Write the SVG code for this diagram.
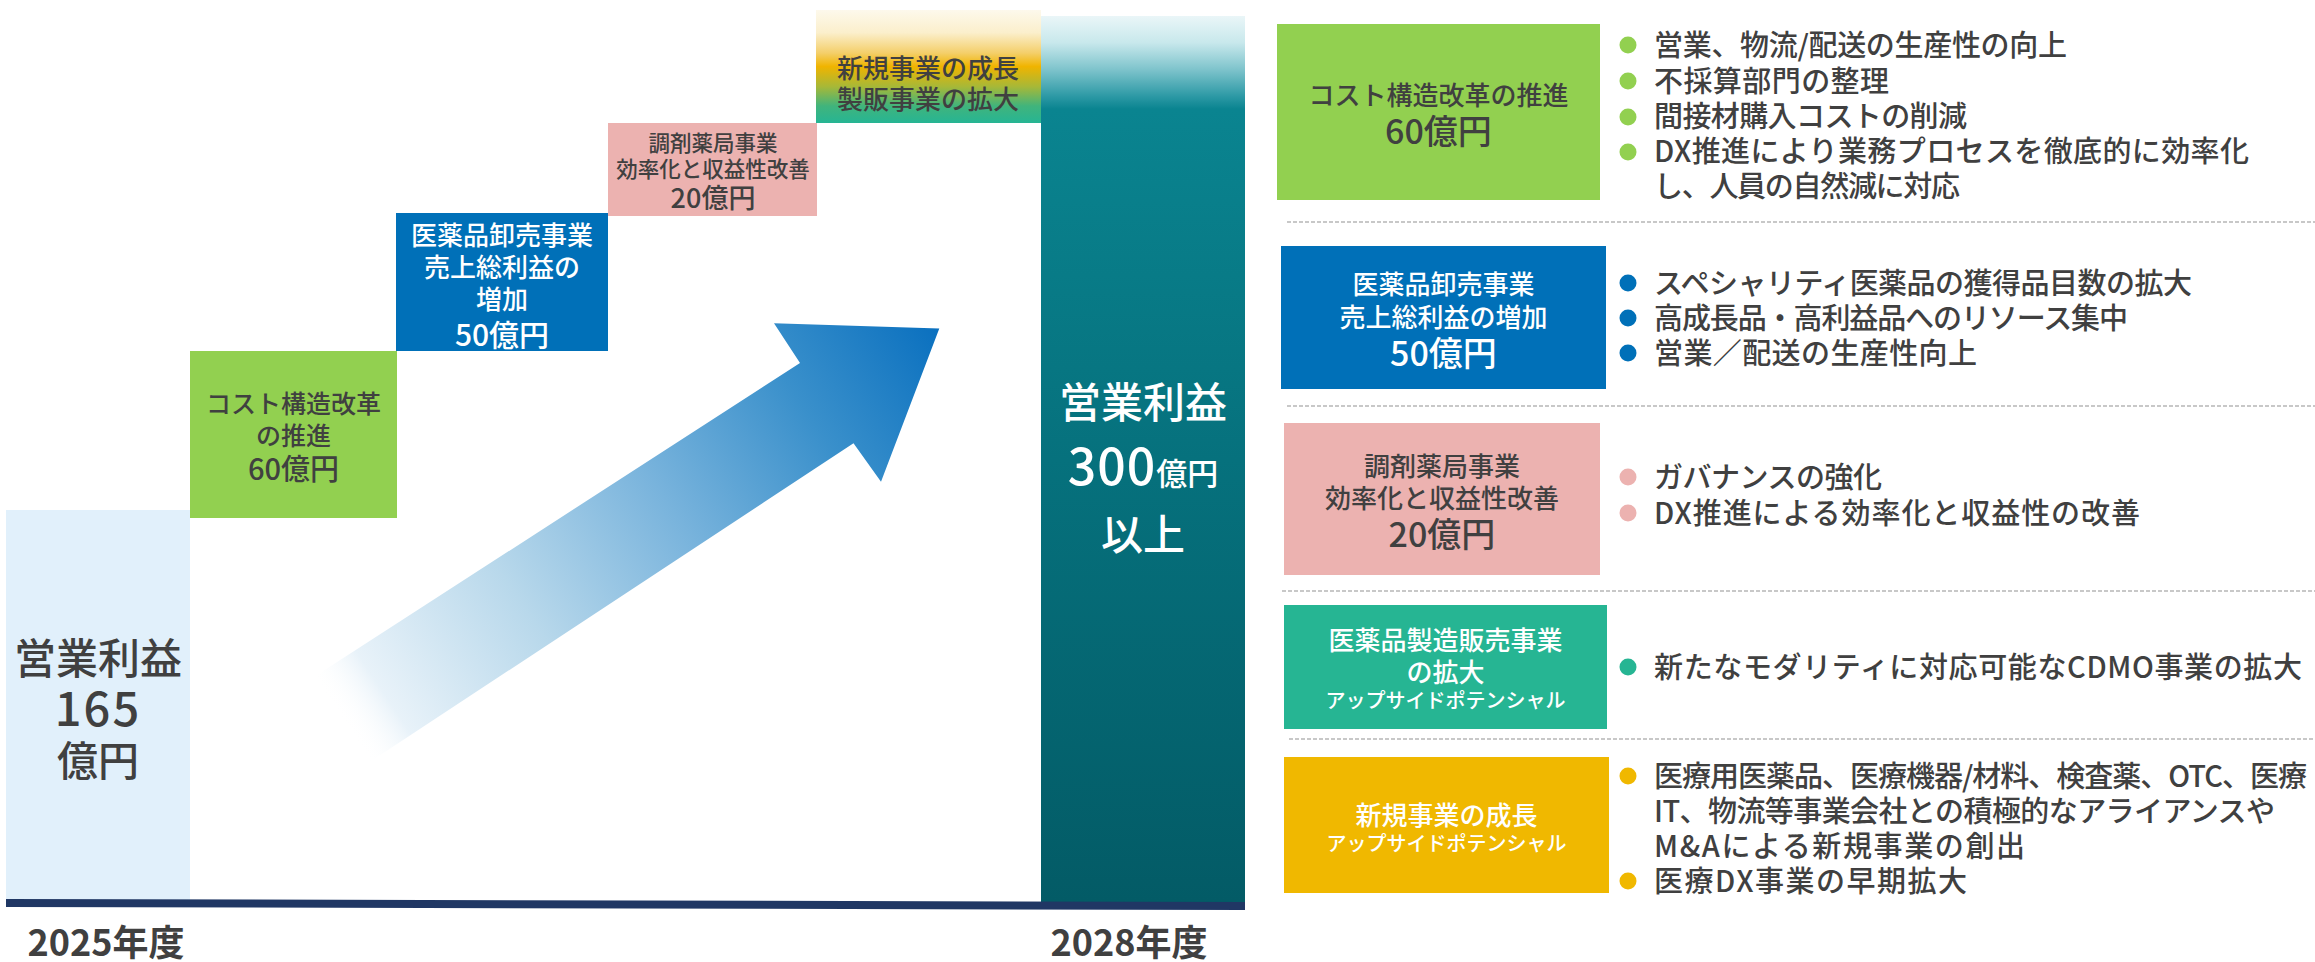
<svg xmlns="http://www.w3.org/2000/svg" width="2315" height="962" viewBox="0 0 2315 962">
<style>
text{font-family:"Noto Sans CJK JP","Noto Sans",sans-serif;font-weight:500;}
.c{text-anchor:middle;}
.dk{fill:#404040;}
.wt{fill:#ffffff;}
.bl{font-size:29px;fill:#404040;font-weight:500;}
.dash{stroke:#c8c8c8;stroke-width:2;stroke-dasharray:4 2;fill:none;}
.yr{font-size:36px;font-weight:700;fill:#404040;text-anchor:middle;}
</style>
<defs>
<linearGradient id="gNew" x1="0" y1="0" x2="0" y2="1">
<stop offset="0" stop-color="#fdf9ec"/>
<stop offset="0.2" stop-color="#fbefcc"/>
<stop offset="0.38" stop-color="#f4cf6a"/>
<stop offset="0.5" stop-color="#f0b400"/>
<stop offset="0.68" stop-color="#a6b838"/>
<stop offset="0.85" stop-color="#40b47c"/>
<stop offset="1" stop-color="#26b594"/>
</linearGradient>
<linearGradient id="gTeal" x1="0" y1="0" x2="0" y2="1">
<stop offset="0" stop-color="#eaf6f8"/>
<stop offset="0.03" stop-color="#c8e8ec"/>
<stop offset="0.06" stop-color="#7fc4cc"/>
<stop offset="0.09" stop-color="#2e9aa6"/>
<stop offset="0.105" stop-color="#0a8490"/>
<stop offset="0.5" stop-color="#06717d"/>
<stop offset="1" stop-color="#035b66"/>
</linearGradient>
<linearGradient id="gArrow" gradientUnits="userSpaceOnUse" x1="345" y1="725" x2="940" y2="330">
<stop offset="0" stop-color="#ffffff" stop-opacity="0"/>
<stop offset="0.07" stop-color="#e8f2f9"/>
<stop offset="0.3" stop-color="#b8d8eb"/>
<stop offset="0.55" stop-color="#78b3dc"/>
<stop offset="0.78" stop-color="#3a90cb"/>
<stop offset="1" stop-color="#0a70bf"/>
</linearGradient>
</defs>
<rect width="2315" height="962" fill="#ffffff"/>

<!-- left chart -->
<g id="base2025">
<rect x="6" y="510" width="184" height="390" fill="#e1f0fb"/>
<text class="c dk" x="98" y="674" font-size="42">営業利益</text>
<text class="c dk" x="98" y="726" font-size="47" letter-spacing="2">165</text>
<text class="c dk" x="98" y="776" font-size="41">億円</text>
</g>
<g id="step-cost">
<rect x="190" y="351" width="207" height="167" fill="#92d050"/>
<text class="c dk" x="293.5" y="413" font-size="25">コスト構造改革</text>
<text class="c dk" x="293.5" y="445" font-size="25">の推進</text>
<text class="c dk" x="293.5" y="480" font-size="29">60億円</text>
</g>
<g id="step-wholesale">
<rect x="396" y="213" width="212" height="138" fill="#0070b8"/>
<text class="c wt" x="502" y="245" font-size="26">医薬品卸売事業</text>
<text class="c wt" x="502" y="277" font-size="26">売上総利益の</text>
<text class="c wt" x="502" y="309" font-size="26">増加</text>
<text class="c wt" x="502" y="346" font-size="30">50億円</text>
</g>
<g id="step-pharmacy">
<rect x="608" y="123" width="209" height="93" fill="#ecb2b0"/>
<text class="c dk" x="713" y="151" font-size="21.5">調剤薬局事業</text>
<text class="c dk" x="713" y="177" font-size="21.5">効率化と収益性改善</text>
<text class="c dk" x="713" y="208" font-size="27">20億円</text>
</g>
<g id="step-new">
<rect x="816" y="10" width="225" height="113" fill="url(#gNew)"/>
<text class="c dk" x="928" y="78" font-size="26">新規事業の成長</text>
<text class="c dk" x="928" y="109" font-size="26">製販事業の拡大</text>
</g>
<g id="target2028">
<rect x="1041" y="16" width="204" height="886" fill="url(#gTeal)"/>
<text class="c wt" x="1143" y="418" font-size="42">営業利益</text>
<text class="c wt" x="1143" y="485"><tspan font-size="50" letter-spacing="1">300</tspan><tspan font-size="31">億円</tspan></text>
<text class="c wt" x="1143" y="550" font-size="42">以上</text>
</g>
<g id="axis">
<polygon points="6,899 1245,902 1245,910 6,907" fill="#203764"/>
<text class="yr" x="106" y="956">2025年度</text>
<text class="yr" x="1129" y="956">2028年度</text>
</g>
<g id="connectors">
<polygon points="939.3,328.5 881,481.7 853.5,443.3 350,775 300,686 800,363 774,323.3" fill="url(#gArrow)"/>
</g>

<!-- right legend -->
<g id="item-cost">
<rect x="1277" y="24" width="323" height="176" fill="#92d050"/>
<text class="c dk" x="1438.5" y="105" font-size="26">コスト構造改革の推進</text>
<text class="c dk" x="1438.5" y="144" font-size="34">60億円</text>
<g fill="#92d050">
<circle cx="1628" cy="45" r="8.5"/><circle cx="1628" cy="81" r="8.5"/><circle cx="1628" cy="117" r="8.5"/><circle cx="1628" cy="152" r="8.5"/>
</g>
<text class="bl" x="1654" y="56" textLength="413">営業、物流/配送の生産性の向上</text>
<text class="bl" x="1654" y="91.5" textLength="235">不採算部門の整理</text>
<text class="bl" x="1654" y="127" textLength="313">間接材購入コストの削減</text>
<text class="bl" x="1654" y="162" textLength="595">DX推進により業務プロセスを徹底的に効率化</text>
<text class="bl" x="1654" y="197" textLength="306">し、人員の自然減に対応</text>
</g>
<line class="dash" x1="1287" y1="222" x2="2315" y2="222"/>
<g id="item-wholesale">
<rect x="1281" y="246" width="325" height="143" fill="#0070b8"/>
<text class="c wt" x="1443.5" y="293.5" font-size="26">医薬品卸売事業</text>
<text class="c wt" x="1443.5" y="326.5" font-size="26">売上総利益の増加</text>
<text class="c wt" x="1443.5" y="366" font-size="34">50億円</text>
<g fill="#0070b8">
<circle cx="1628" cy="283" r="8.5"/><circle cx="1628" cy="318" r="8.5"/><circle cx="1628" cy="353" r="8.5"/>
</g>
<text class="bl" x="1654" y="294" textLength="538">スペシャリティ医薬品の獲得品目数の拡大</text>
<text class="bl" x="1654" y="329" textLength="474">高成長品・高利益品へのリソース集中</text>
<text class="bl" x="1654" y="364" textLength="323">営業／配送の生産性向上</text>
</g>
<line class="dash" x1="1287" y1="406" x2="2315" y2="406"/>
<g id="item-pharmacy">
<rect x="1284" y="423" width="316" height="152" fill="#ecb2b0"/>
<text class="c dk" x="1442" y="476" font-size="26">調剤薬局事業</text>
<text class="c dk" x="1442" y="508" font-size="26">効率化と収益性改善</text>
<text class="c dk" x="1442" y="547" font-size="34">20億円</text>
<g fill="#ecb2b0">
<circle cx="1628" cy="477" r="8.5"/><circle cx="1628" cy="513" r="8.5"/>
</g>
<text class="bl" x="1654" y="488" textLength="228">ガバナンスの強化</text>
<text class="bl" x="1654" y="524" textLength="486">DX推進による効率化と収益性の改善</text>
</g>
<line class="dash" x1="1282" y1="591" x2="2315" y2="591"/>
<g id="item-manufacturing">
<rect x="1284" y="605" width="323" height="124" fill="#26b593"/>
<text class="c wt" x="1445.5" y="650" font-size="26">医薬品製造販売事業</text>
<text class="c wt" x="1445.5" y="682" font-size="26">の拡大</text>
<text class="c wt" x="1445.5" y="708" font-size="20">アップサイドポテンシャル</text>
<circle cx="1628" cy="667" r="8.5" fill="#26b593"/>
<text class="bl" x="1654" y="678" textLength="648">新たなモダリティに対応可能なCDMO事業の拡大</text>
</g>
<line class="dash" x1="1289" y1="739" x2="2315" y2="739"/>
<g id="item-new">
<rect x="1284" y="757" width="325" height="136" fill="#f0b800"/>
<text class="c wt" x="1446.5" y="825" font-size="26">新規事業の成長</text>
<text class="c wt" x="1446.5" y="851" font-size="20">アップサイドポテンシャル</text>
<g fill="#f0b800">
<circle cx="1628" cy="776" r="8.5"/><circle cx="1628" cy="881" r="8.5"/>
</g>
<text class="bl" x="1654" y="787" textLength="653">医療用医薬品、医療機器/材料、検査薬、OTC、医療</text>
<text class="bl" x="1654" y="822" textLength="621">IT、物流等事業会社との積極的なアライアンスや</text>
<text class="bl" x="1654" y="857" textLength="371">M&amp;Aによる新規事業の創出</text>
<text class="bl" x="1654" y="892" textLength="313">医療DX事業の早期拡大</text>
</g>
</svg>
